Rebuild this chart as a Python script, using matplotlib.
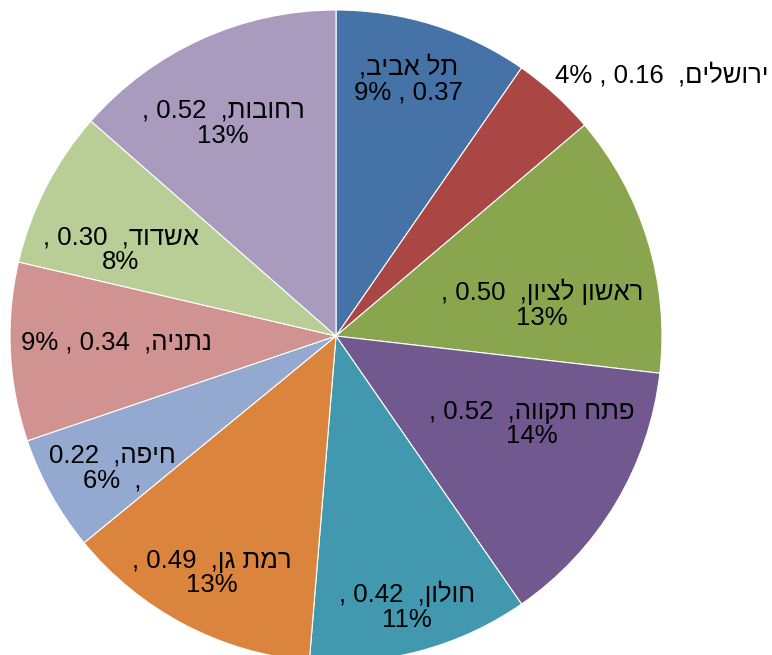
import matplotlib
matplotlib.use("Agg")
import matplotlib.pyplot as plt

plt.rcParams['font.family'] = ['Liberation Sans', 'DejaVu Sans']

# Data: city, value, share shown on the label (%)
cities = ["תל אביב", "ירושלים", "ראשון לציון", "פתח תקווה", "חולון",
          "רמת גן", "חיפה", "נתניה", "אשדוד", "רחובות"]
values = [0.37, 0.16, 0.50, 0.52, 0.42, 0.49, 0.22, 0.34, 0.30, 0.52]
percents = [9, 4, 13, 14, 11, 13, 6, 9, 8, 13]

colors = ["#4572A7", "#AA4643", "#89A54E", "#71588F", "#4198AF",
          "#DB843D", "#93A9CF", "#D19392", "#B9CD96", "#A99BBD"]

# Label layout: style of line break and centre position (data coords, radius 1)
label_styles = ["top", "single", "two", "two", "two",
                "two", "haifa", "single", "two", "two"]
label_pos = [(0.222, 0.788), (0.672, 0.80), (0.632, 0.098), (0.601, -0.270),
             (0.218, -0.828), (-0.380, -0.727), (-0.687, -0.405),
             (-0.672, -0.021), (-0.660, 0.264), (-0.347, 0.653)]


def vis(s):
    # matplotlib lays text out left-to-right; store Hebrew in visual order
    return s[::-1]


def make_label(name, v, p, style):
    h = vis(name)
    if style == "top":
        return f",{h}\n{p}% , {v:.2f}"
    if style == "single":
        return f"{p}% , {v:.2f}  ,{h}"
    if style == "haifa":
        return f"{v:.2f}  ,{h}\n{p}%  ,"
    return f", {v:.2f}  ,{h}\n{p}%"


W, H = 772, 655
fig = plt.figure(figsize=(W / 100, H / 100), dpi=100)
cx, cy, r = 336, 336, 326
ax = fig.add_axes([(cx - r) / W, (H - cy - r) / H, 2 * r / W, 2 * r / H])
ax.axis("off")

ax.pie(values, colors=colors, startangle=90, counterclock=False, radius=1,
       wedgeprops=dict(edgecolor="white", linewidth=0.8))
ax.set_xlim(-1, 1)
ax.set_ylim(-1, 1)

for name, v, p, style, (x, y) in zip(cities, values, percents, label_styles, label_pos):
    ha = "left" if name == "ירושלים" else "center"
    ax.text(x, y, make_label(name, v, p, style), ha=ha, va="center",
            fontsize=18.5, color="black", linespacing=1.05, multialignment="center")

fig.savefig("out.png", dpi=100)
